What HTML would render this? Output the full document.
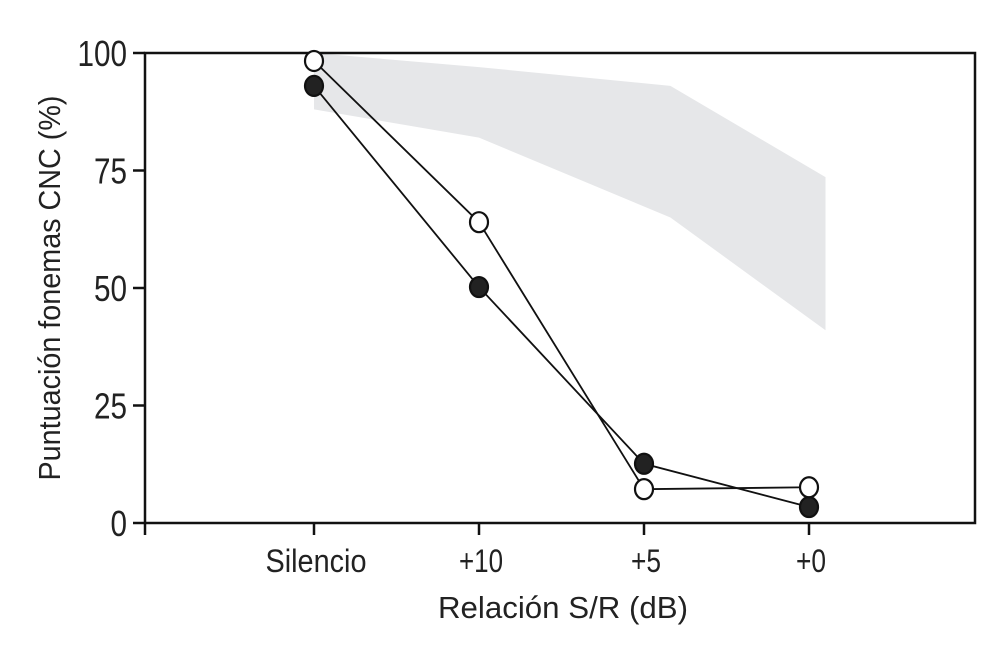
<!DOCTYPE html>
<html><head><meta charset="utf-8"><style>
body{margin:0;background:#fff}
svg text{font-family:"Liberation Sans",sans-serif;fill:#222}
</style></head><body>
<svg width="991" height="641" viewBox="0 0 991 641">
<g id="band"></g>
<g id="axes"></g>
<g id="series"></g>
<text x="0" y="0" transform="translate(60,288) rotate(-90)" text-anchor="middle" font-size="31" textLength="385" lengthAdjust="spacingAndGlyphs">Puntuación fonemas CNC (%)</text>
<text x="563" y="618" text-anchor="middle" font-size="31" textLength="250" lengthAdjust="spacingAndGlyphs">Relación S/R (dB)</text>
</svg>
<script>
const categories=["Silencio","+10","+5","+0"];
const filledValues=[93,50.2,12.6,3.4];
const openValues=[98.3,64,7.2,7.6];
const bandPos=[0,1,2.16,3.1];
const bandUpper=[100,97,93,73.6];
const bandLower=[88,82,65,41];
const yTicks=[0,25,50,75,100];
const catWidths=[101,44,30,30];
const NS="http://www.w3.org/2000/svg";
const X0=145,X1=975,Y0=523,Y1=53;
const xs=i=>314+i*165;
const ys=v=>Y0-(v/100)*(Y0-Y1);
function mk(t,a,p){const e=document.createElementNS(NS,t);for(const k in a)e.setAttribute(k,a[k]);p.appendChild(e);return e;}
const axes=document.getElementById('axes');
const band=document.getElementById('band');
const series=document.getElementById('series');
let pts=bandPos.map((p,i)=>xs(p)+','+ys(bandUpper[i]));
for(let i=bandPos.length-1;i>=0;i--)pts.push(xs(bandPos[i])+','+ys(bandLower[i]));
const poly=mk('polygon',{points:pts.join(' '),fill:'#e6e7e9'},band);


const frame=mk('rect',{x:X0,y:Y1,width:X1-X0,height:Y0-Y1,fill:'none',stroke:'#111','stroke-width':2.5},axes);


yTicks.forEach(v=>{
 const l=mk('line',{x1:X0-12,x2:X0,y1:ys(v),y2:ys(v),stroke:'#111','stroke-width':2.5},axes);
 
 
 const s=String(v);
 const t=mk('text',{x:X0-18,y:ys(v)+13,'text-anchor':'end','font-size':36,textLength:s.length*16.5,lengthAdjust:'spacingAndGlyphs'},axes);
 t.textContent=s;
 
 
});
[X0].concat(categories.map((c,i)=>xs(i))).forEach(x=>{
 const l=mk('line',{x1:x,x2:x,y1:Y0,y2:Y0+12,stroke:'#111','stroke-width':2.5},axes);
 
 
});
categories.forEach((c,i)=>{
 const t=mk('text',{x:xs(i)+2,y:572,'text-anchor':'middle','font-size':32,textLength:catWidths[i],lengthAdjust:'spacingAndGlyphs'},axes);
 t.textContent=c;
 
 
});
function drawSeries(vals,fill,name){
 const pl=mk('polyline',{points:vals.map((v,i)=>xs(i)+','+ys(v)).join(' '),fill:'none',stroke:'#111','stroke-width':1.8},series);
 
 
 vals.forEach((v,i)=>{
  const e=mk('ellipse',{cx:xs(i),cy:ys(v),rx:9,ry:10,fill:fill,stroke:'#111','stroke-width':2.2},series);
  
  
 });
}
drawSeries(filledValues,'#222','filled-series');
drawSeries(openValues,'#fff','open-series');
</script>
</body></html>
